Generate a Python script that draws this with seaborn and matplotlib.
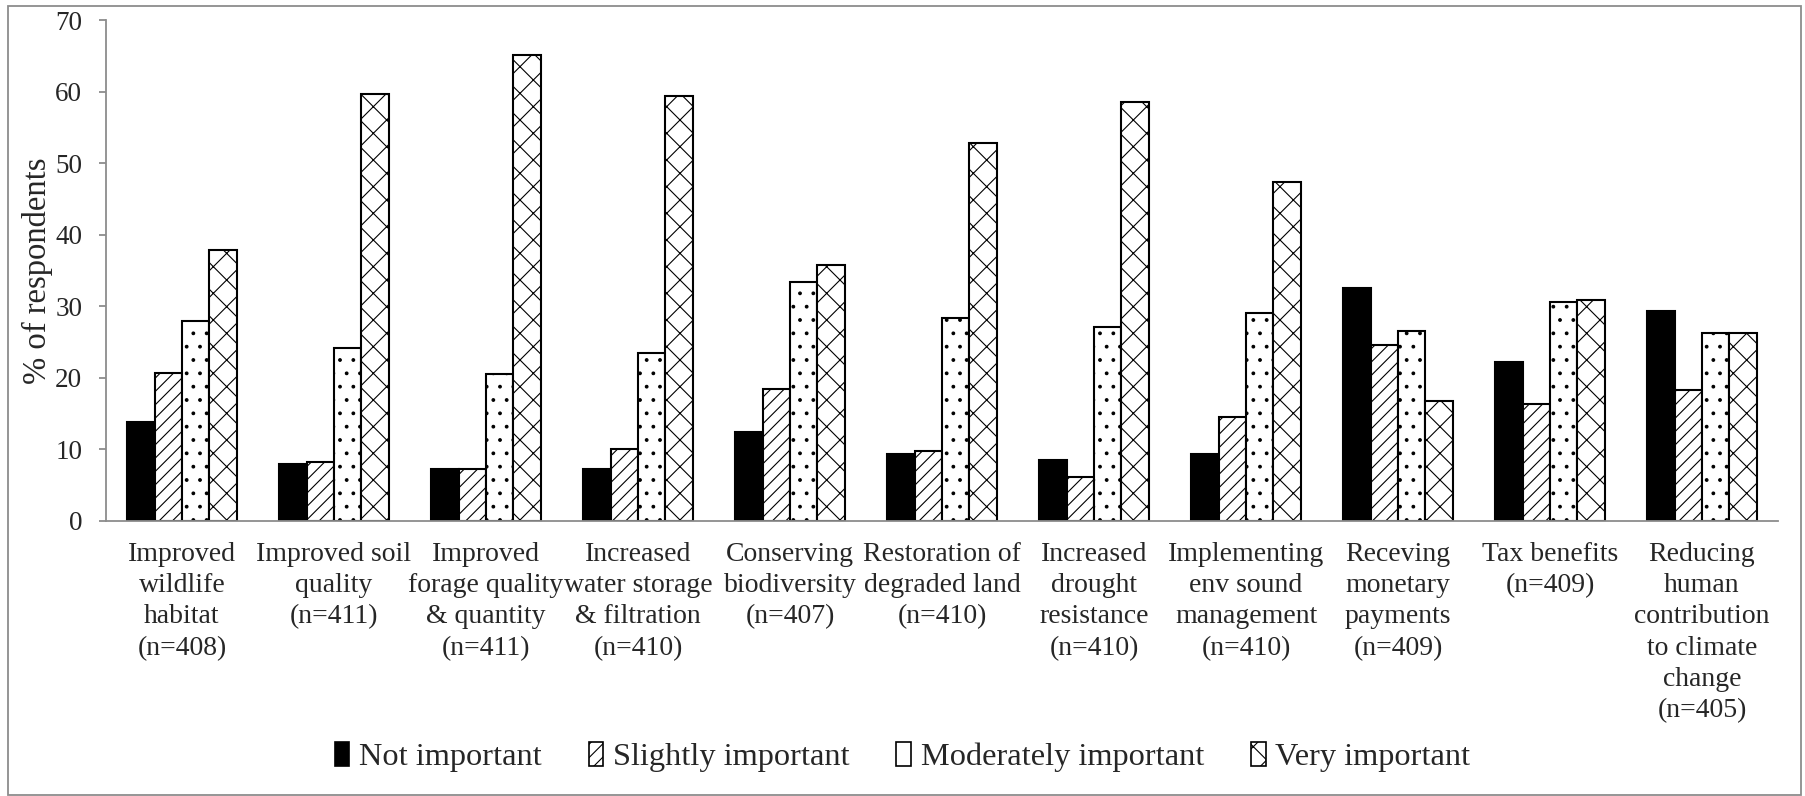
import numpy as np
import pandas as pd
import matplotlib
matplotlib.use("Agg")
import matplotlib.pyplot as plt
import seaborn as sns
from matplotlib.patches import Rectangle, Patch

categories = [
    "Improved\nwildlife\nhabitat\n(n=408)",
    "Improved soil\nquality\n(n=411)",
    "Improved\nforage quality\n& quantity\n(n=411)",
    "Increased\nwater storage\n& filtration\n(n=410)",
    "Conserving\nbiodiversity\n(n=407)",
    "Restoration of\ndegraded land\n(n=410)",
    "Increased\ndrought\nresistance\n(n=410)",
    "Implementing\nenv sound\nmanagement\n(n=410)",
    "Receving\nmonetary\npayments\n(n=409)",
    "Tax benefits\n(n=409)",
    "Reducing\nhuman\ncontribution\nto climate\nchange\n(n=405)",
]
levels = ["Not important", "Slightly important", "Moderately important", "Very important"]

not_important = [13.8, 8.0, 7.2, 7.3, 12.5, 9.3, 8.5, 9.3, 32.5, 22.2, 29.4]
slightly_important = [20.7, 8.3, 7.3, 10.1, 18.5, 9.8, 6.2, 14.5, 24.6, 16.4, 18.3]
moderately_important = [28.0, 24.2, 20.6, 23.5, 33.4, 28.4, 27.1, 29.1, 26.5, 30.6, 26.2]
very_important = [37.8, 59.7, 65.1, 59.4, 35.7, 52.8, 58.5, 47.4, 16.7, 30.9, 26.2]

DPI = 80
K = 100 / DPI  # keep sizes tuned for 100 dpi

sns.set_theme(style="white")
plt.rcParams["font.family"] = ["Liberation Serif", "DejaVu Serif"]
plt.rcParams["hatch.linewidth"] = 1.0
plt.rcParams["hatch.color"] = "black"

df = pd.DataFrame({
    "category": categories * 4,
    "level": sum([[lv] * len(categories) for lv in levels], []),
    "value": not_important + slightly_important + moderately_important + very_important,
})

W, H = 1805, 796
x0, x1, y0, y1 = 106, 1778, 521, 20
fig = plt.figure(figsize=(W / DPI, H / DPI), dpi=DPI)
ax = fig.add_axes([x0 / W, 1 - y0 / H, (x1 - x0) / W, (y0 - y1) / H])

sns.barplot(data=df, x="category", y="value", hue="level", order=categories,
            hue_order=levels, palette=["black", "white", "white", "white"],
            width=0.72, edgecolor="black", linewidth=1.5 * K, errorbar=None,
            ax=ax, legend=False)

hatches = ["", "//", ".", "x"]
for cont, h in zip(ax.containers, hatches):
    for bar in cont:
        bar.set_hatch(h)

ax.set_xlim(-0.5, len(categories) - 0.5)
ax.set_ylim(0, 70)
ax.set_yticks(range(0, 71, 10))
ax.set_xlabel("")
ax.set_ylabel("% of respondents", fontsize=23.5 * K)
ax.yaxis.set_label_coords((53 - x0) / (x1 - x0), 0.5)
for s in ["top", "right"]:
    ax.spines[s].set_visible(False)
for s in ["left", "bottom"]:
    ax.spines[s].set_color("#8c8c8c")
    ax.spines[s].set_linewidth(1.3 * K)
ax.tick_params(axis="y", direction="out", length=7 * 0.72 * K, width=1.3 * K,
               color="#8c8c8c", labelsize=19.5 * K, pad=12 * K, left=True)
ax.tick_params(axis="x", length=0, labelsize=20 * K, pad=15 * K)
for lbl in ax.get_xticklabels():
    lbl.set_linespacing(1.33)
    lbl.set_verticalalignment("top")

handles = [Patch(facecolor=c, edgecolor="black", hatch=h, linewidth=1.2 * K)
           for c, h in zip(["black", "white", "white", "white"], ["", "//", "", "x"])]
fig.legend(handles, levels, loc="center", bbox_to_anchor=(0.5, 1 - 757 / H),
           ncol=4, frameon=False, fontsize=23.3 * K, handlelength=0.45, handleheight=0.75,
           handletextpad=0.3, columnspacing=1.45)

fig.patches.append(Rectangle((8 / W, 1 / H), (1801 - 8) / W, (790 - 1) / H,
                             transform=fig.transFigure, fill=False,
                             edgecolor="#8c8c8c", linewidth=1.3 * K))

fig.savefig("out.png", dpi=DPI, facecolor="white")
